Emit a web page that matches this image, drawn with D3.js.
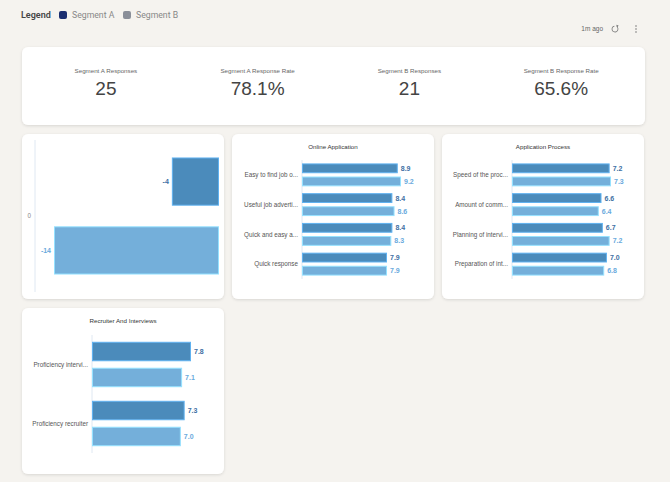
<!DOCTYPE html>
<html>
<head>
<meta charset="utf-8">
<script src="https://cdn.jsdelivr.net/npm/d3@7"></script>
<style>
  body { margin: 0; background: #f5f3ef; }
  svg { display: block; font-family: "Liberation Sans", Arial, sans-serif; }
</style>
</head>
<body>
<div id="chart"></div>
<script>
// 데이터
const segments = ['Segment A', 'Segment B'];
const segmentSwatches = ['#1b2e70', '#8a8f99'];

const kpiLabels = ['Segment A Responses', 'Segment A Response Rate', 'Segment B Responses', 'Segment B Response Rate'];
const kpiValues = ['25', '78.1%', '21', '65.6%'];

const deltaCategories = ['0'];
const deltaA = [-4];
const deltaB = [-14];

const onlineCategories = ['Easy to find job openings', 'Useful job advertisements', 'Quick and easy application', 'Quick response'];
const onlineA = [8.9, 8.4, 8.4, 7.9];
const onlineB = [9.2, 8.6, 8.3, 7.9];

const processCategories = ['Speed of the process', 'Amount of communication', 'Planning of interviews', 'Preparation of interviews'];
const processA = [7.2, 6.6, 6.7, 7.0];
const processB = [7.3, 6.4, 7.2, 6.8];

const recruiterCategories = ['Proficiency interviewer', 'Proficiency recruiter'];
const recruiterA = [7.8, 7.3];
const recruiterB = [7.1, 7.0];

const W = 670, H = 482;
const barColors = ['#4b8bbb', '#74afda'];
const labelColors = ['#3d6fa3', '#6aaadd'];

const svg = d3.select('#chart').append('svg')
    .attr('width', W)
    .attr('height', H);

// 카드 그림자
const defs = svg.append('defs');
defs.append('filter')
    .attr('id', 'shadow')
    .attr('x', '-10%').attr('y', '-10%')
    .attr('width', '120%').attr('height', '130%')
    .append('feDropShadow')
    .attr('dx', 0).attr('dy', 1)
    .attr('stdDeviation', 1.5)
    .attr('flood-color', '#000')
    .attr('flood-opacity', 0.12);

// 범례
const legend = svg.append('g').attr('transform', 'translate(21,15)');
legend.append('text')
    .attr('dy', '0.35em')
    .attr('font-size', 9)
    .attr('font-weight', 600)
    .attr('fill', '#444')
    .style('font-family', 'Roboto, sans-serif')
    .text('Legend');
const legendItems = legend.selectAll('g.item')
    .data(segments)
    .enter().append('g')
    .attr('class', 'item')
    .attr('transform', (d, i) => `translate(${38 + i * 64},0)`);
legendItems.append('rect')
    .attr('y', -4).attr('width', 8).attr('height', 8).attr('rx', 2)
    .attr('fill', (d, i) => segmentSwatches[i]);
legendItems.append('text')
    .attr('x', 13).attr('dy', '0.35em')
    .attr('font-size', 8.7)
    .attr('fill', '#888')
    .style('font-family', 'Roboto, sans-serif')
    .text(d => d);

// 상단 우측 상태
svg.append('text')
    .attr('x', 603).attr('y', 29).attr('dy', '0.35em')
    .attr('text-anchor', 'end')
    .attr('font-size', 6.5)
    .attr('fill', '#666')
    .text('1m ago');
const refresh = svg.append('g').attr('transform', 'translate(615,29)');
refresh.append('path')
    .attr('d', d3.arc()({ innerRadius: 2.6, outerRadius: 3.4, startAngle: 0.6, endAngle: Math.PI * 2 - 0.2 }))
    .attr('fill', '#777');
refresh.append('path')
    .attr('d', 'M1.2,-4.2 L3.6,-3.4 L2.2,-1.4 Z')
    .attr('fill', '#777');
svg.append('g').selectAll('circle')
    .data([-3, 0, 3])
    .enter().append('circle')
    .attr('cx', 636).attr('cy', d => 29 + d)
    .attr('r', 0.8)
    .attr('fill', '#777');

function card(x, y, w, h) {
    const g = svg.append('g').attr('transform', `translate(${x},${y})`);
    g.append('rect')
        .attr('width', w).attr('height', h)
        .attr('rx', 6)
        .attr('fill', '#fff')
        .attr('filter', 'url(#shadow)');
    return g;
}

// KPI 카드
const kpi = card(22, 47, 623, 78);
const kpiX = d3.scaleBand().domain(kpiLabels).range([8, 615]);
const kpiCells = kpi.selectAll('g.kpi')
    .data(kpiLabels)
    .enter().append('g')
    .attr('class', 'kpi')
    .attr('transform', d => `translate(${kpiX(d) + kpiX.bandwidth() / 2},0)`);
kpiCells.append('text')
    .attr('y', 24).attr('dy', '0.35em')
    .attr('text-anchor', 'middle')
    .attr('font-size', 6.2)
    .attr('fill', '#666')
    .text(d => d);
kpiCells.append('text')
    .attr('y', 41).attr('dy', '0.35em')
    .attr('text-anchor', 'middle')
    .attr('font-size', 19)
    .attr('fill', '#444')
    .text((d, i) => kpiValues[i]);

// 라벨 자르기
function truncate(sel, maxW) {
    sel.each(function () {
        const t = d3.select(this);
        const full = t.text();
        if (this.getComputedTextLength() <= maxW) return;
        let n = full.length;
        while (n > 1) {
            n--;
            t.text(full.slice(0, n).trimEnd() + '...');
            if (this.getComputedTextLength() <= maxW) break;
        }
    });
}

// 막대 차트
function barChart(g, cfg) {
    if (cfg.title) {
        g.append('text')
            .attr('x', cfg.w / 2).attr('y', 13).attr('dy', '0.35em')
            .attr('text-anchor', 'middle')
            .attr('font-size', 6.2)
            .attr('fill', '#333')
            .text(cfg.title);
    }
    const ax = cfg.axisX;
    const y = d3.scaleBand()
        .domain(cfg.categories)
        .range(cfg.yRange)
        .paddingInner(0.23)
        .paddingOuter(0.115);
    const ySub = d3.scaleBand()
        .domain(segments)
        .range([0, y.bandwidth()])
        .paddingInner(cfg.subPad);
    const all = cfg.a.concat(cfg.b);
    const neg = d3.min(all) < 0;
    const x = d3.scaleLinear()
        .domain(neg ? [d3.min(all), 0] : [0, d3.max(all)])
        .range(cfg.xRange);

    g.append('line')
        .attr('x1', ax).attr('x2', ax)
        .attr('y1', cfg.yRange[0]).attr('y2', cfg.yRange[1])
        .attr('stroke', '#dfe8f2')
        .attr('stroke-width', 1);

    const cats = g.selectAll('g.cat')
        .data(cfg.categories)
        .enter().append('g')
        .attr('class', 'cat')
        .attr('transform', d => `translate(0,${y(d)})`);

    cats.append('text')
        .attr('x', ax - 4)
        .attr('y', y.bandwidth() / 2)
        .attr('dy', '0.35em')
        .attr('text-anchor', 'end')
        .attr('font-size', 6.3)
        .attr('fill', neg ? '#888' : '#555')
        .text(d => d)
        .call(truncate, 56);

    const bars = cats.selectAll('g.bar')
        .data((d, i) => segments.map((s, j) => ({ seg: s, j, v: j === 0 ? cfg.a[i] : cfg.b[i] })))
        .enter().append('g')
        .attr('class', 'bar');

    bars.append('rect')
        .attr('x', d => Math.min(x(d.v), x(0)) + 0.5)
        .attr('y', d => ySub(d.seg) + 0.5)
        .attr('width', d => Math.abs(x(d.v) - x(0)) - 1)
        .attr('height', ySub.bandwidth() - 1)
        .attr('fill', d => barColors[d.j])
        .attr('stroke', d => d3.color(barColors[d.j]).brighter(0.7))
        .attr('stroke-width', 1);

    bars.append('text')
        .attr('x', d => d.v < 0 ? x(d.v) - 3 : x(d.v) + 3)
        .attr('y', d => ySub(d.seg) + ySub.bandwidth() / 2)
        .attr('dy', '0.35em')
        .attr('text-anchor', d => d.v < 0 ? 'end' : 'start')
        .attr('font-size', 7)
        .attr('font-weight', 'bold')
        .attr('fill', d => labelColors[d.j])
        .text(d => d.v < 0 ? String(d.v) : d3.format('.1f')(d.v));
}

barChart(card(22, 134, 202, 165), {
    w: 202, categories: deltaCategories, a: deltaA, b: deltaB,
    axisX: 13, yRange: [6, 158], xRange: [32, 197], subPad: 0.3
});
barChart(card(232, 134, 202, 165), {
    w: 202, title: 'Online Application', categories: onlineCategories, a: onlineA, b: onlineB,
    axisX: 70, yRange: [26, 145], xRange: [70, 169], subPad: 0.25
});
barChart(card(442, 134, 202, 165), {
    w: 202, title: 'Application Process', categories: processCategories, a: processA, b: processB,
    axisX: 70, yRange: [26, 145], xRange: [70, 169], subPad: 0.25
});
barChart(card(22, 308, 202, 166), {
    w: 202, title: 'Recruiter And Interviews', categories: recruiterCategories, a: recruiterA, b: recruiterB,
    axisX: 70, yRange: [27, 145], xRange: [70, 169], subPad: 0.25
});
</script>
</body>
</html>
